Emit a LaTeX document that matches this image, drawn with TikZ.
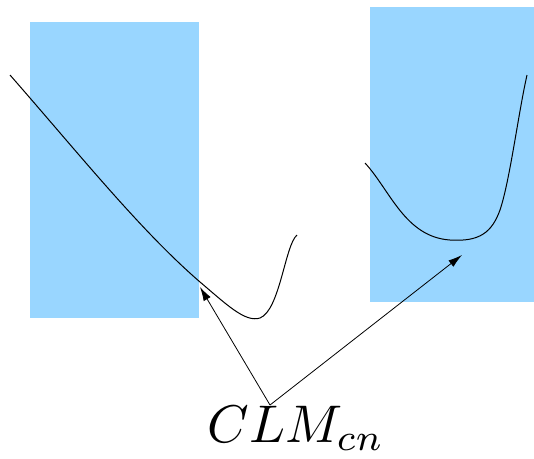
\documentclass[tikz,border=0pt]{standalone}
\usetikzlibrary{arrows.meta}
\definecolor{lblue}{RGB}{153,214,255}
\begin{document}
\begin{tikzpicture}[x=1pt,y=-1pt,
  panel/.style={fill=lblue,draw=none},
  curve/.style={line width=1pt,black},
  pointer/.style={line width=0.8pt,-{Latex[length=14pt,width=8pt]}}]
\useasboundingbox (0,0) rectangle (534,458);
\fill[panel] (30,22) rectangle (199,318);
\fill[panel] (370,7) rectangle (534,302);
\draw[curve] (10,75) .. controls (80,155) and (140,230) .. (200,282)
  .. controls (225,303) and (245,323) .. (260,318)
  .. controls (280,310) and (285,245) .. (297,235);
\draw[curve] (365,163) .. controls (390,190) and (405,237) .. (450,240)
  .. controls (480,242) and (492,232) .. (500,210)
  .. controls (510,180) and (518,115) .. (527,75);
\node[inner sep=0pt,scale=5.3] (lbl) at (296,428) {$CLM_{cn}$};
\coordinate (src) at (270,405);
\coordinate (t1) at (200,287);
\coordinate (t2) at (462,255);
\draw[pointer] (src) -- (t1);
\draw[pointer] (src) -- (t2);
\end{tikzpicture}
\end{document}
